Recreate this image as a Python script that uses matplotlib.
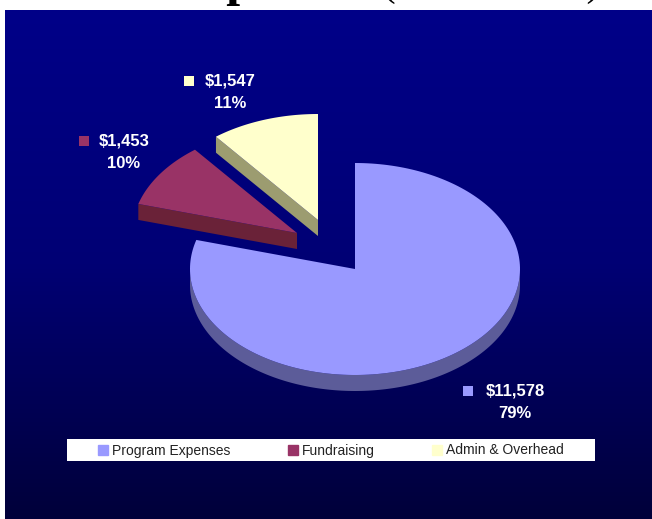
import numpy as np
import matplotlib
matplotlib.use("Agg")
import matplotlib.pyplot as plt
from matplotlib.patches import Patch, Rectangle

# expenses, in thousands
categories = ["Program Expenses", "Fundraising", "Admin & Overhead"]
expenses = [11578, 1453, 1547]

top_colors = ["#9999FF", "#993366", "#FFFFCC"]
side_colors = ["#5C5C99", "#6A2238", "#9C9C70"]

W, H = 652, 519
CX, CY = 355, 269  # pie centre in pixels
RX, RY = 165, 106
DEPTH = 16

# how far each slice is pulled out, pixels
offsets = [(0, 0), (-58, -36), (-37, -49)]
# where the data labels go: marker x, text x, first line y
label_pos = [(468, 515, 391), (84, 124, 141), (189, 230, 81)]

plt.rcParams["font.family"] = ["Liberation Sans", "DejaVu Sans"]

fig = plt.figure(figsize=(W / 100, H / 100), dpi=100, facecolor="white")
ax = fig.add_axes([0, 0, 1, 1])

# background panel, dark blue fading down
grad = np.linspace(0, 1, 256).reshape(-1, 1)
cmap = matplotlib.colors.LinearSegmentedColormap.from_list("bg", ["#000088", "#000074", "#00003A"])
ax.imshow(grad, cmap=cmap, extent=(5, W, H, 10), aspect="auto", zorder=0)
ax.set_xlim(0, W)
ax.set_ylim(H, 0)
ax.axis("off")

# title is cut off by the top of the image, only the descenders show
ax.text(168, -5, "Expenses", family="Liberation Serif", weight="bold", fontsize=36,
        color="black", va="baseline", ha="left", clip_on=False)
ax.text(383, -4, "(in thousands)", family="Liberation Serif", fontsize=27.4,
        color="black", va="baseline", ha="left", clip_on=False)


def point(deg, ox, oy):
    # deg is clockwise from 12 o'clock
    a = np.radians(deg)
    return CX + ox + RX * np.sin(a), CY + oy - RY * np.cos(a)


fractions = np.array(expenses) / sum(expenses)
edges = np.concatenate([[0], np.cumsum(fractions) * 360])

for i in [0, 2, 1]:
    ox, oy = offsets[i]
    start, end = edges[i], edges[i + 1]
    t = np.linspace(start, end, 200)
    xs, ys = point(t, ox, oy)

    # outer wall, only the part facing down is visible
    low = np.linspace(max(start, 90), min(end, 270), 200)
    if low[-1] > low[0]:
        wx, wy = point(low, ox, oy)
        ax.fill(np.r_[wx, wx[::-1]], np.r_[wy, wy[::-1] + DEPTH], color=side_colors[i], lw=0, zorder=2 + i)

    # cut face on the exploded slices
    if i > 0:
        ex, ey = point(start, ox, oy)
        ax.fill([CX + ox, ex, ex, CX + ox], [CY + oy, ey, ey + DEPTH, CY + oy + DEPTH],
                color=side_colors[i], lw=0, zorder=2 + i)

    ax.fill(np.r_[CX + ox, xs], np.r_[CY + oy, ys], color=top_colors[i], lw=0, zorder=2 + i)

# data labels
for i, (mx, tx, ty) in enumerate(label_pos):
    ax.plot(mx, ty, "s", ms=7.5, color=top_colors[i], mew=0, zorder=6)
    ax.text(tx, ty, f"${expenses[i]:,}", color="white", weight="bold", fontsize=12,
            ha="center", va="center", zorder=6)
    ax.text(tx, ty + 22.5, f"{fractions[i] * 100:.0f}%", color="white", weight="bold", fontsize=12,
            ha="center", va="center", zorder=6)

# white strip behind the legend
ax.add_patch(Rectangle((67, 439), 528, 22, facecolor="white", edgecolor="none", zorder=7))

handles = [Patch(color=c, label=n) for c, n in zip(top_colors, categories)]
leg = fig.legend(handles=handles, loc="center left", ncol=3,
                 bbox_to_anchor=(98 / W, 1 - 450.5 / H), borderaxespad=0, borderpad=0,
                 fontsize=10, frameon=False, handlelength=0.7, handleheight=0.7,
                 handletextpad=0.3, columnspacing=4.15, labelcolor="#222222")
leg.set_zorder(8)

fig.savefig("out.png", dpi=100, facecolor="white")
